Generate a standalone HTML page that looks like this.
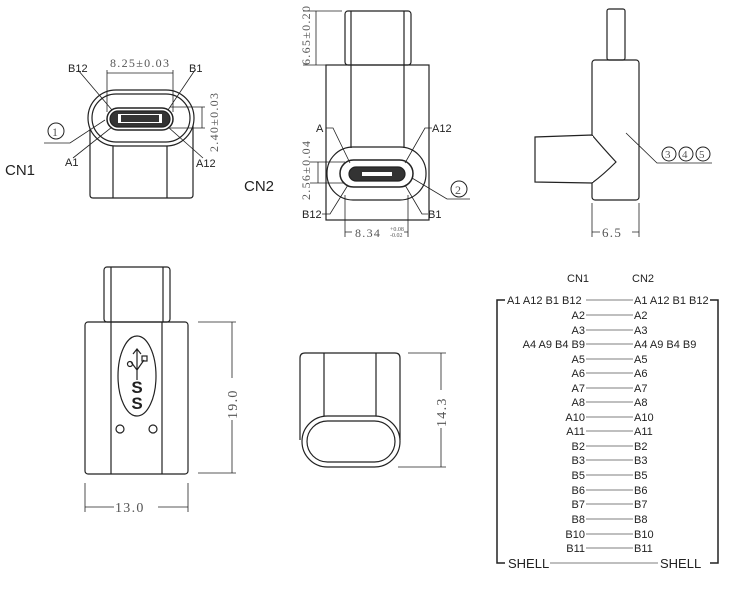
<!DOCTYPE html>
<html><head><meta charset="utf-8"><style>
body{margin:0;background:#fff}
svg{display:block}
.s{font-family:"Liberation Sans",sans-serif;fill:#222}
.d{font-family:"Liberation Serif",serif;fill:#555;letter-spacing:1.3px}
</style></head><body>
<svg width="750" height="592" viewBox="0 0 750 592" xmlns="http://www.w3.org/2000/svg" fill="none" stroke="#222" stroke-width="1.2">
<!-- CN1 -->
<path d="M90 120 V195 q0 3 3 3 H190 q3 0 3 -3 V120"/>
<line x1="113" y1="142" x2="113" y2="198"/><line x1="167" y1="142" x2="167" y2="198"/>
<rect x="88" y="90" width="106" height="56" rx="28" fill="#fff"/>
<rect x="92" y="94" width="98" height="48" rx="24"/>
<rect x="107" y="108" width="66" height="22" rx="11" stroke-width="1.5"/>
<rect x="110" y="111" width="60" height="16" rx="8" fill="#333"/>
<rect x="118" y="114" width="44" height="9" fill="#fff" stroke="none"/>
<rect x="121" y="115" width="38" height="7" fill="#333" stroke="none"/>
<line x1="107" y1="73" x2="173" y2="73" stroke-width="0.8"/>
<line x1="107" y1="70" x2="107" y2="112" stroke-width="0.8"/><line x1="173" y1="70" x2="173" y2="112" stroke-width="0.8"/>
<line x1="170" y1="107" x2="205" y2="107" stroke-width="0.8"/><line x1="170" y1="128" x2="205" y2="128" stroke-width="0.8"/>
<line x1="202" y1="107" x2="202" y2="128" stroke-width="0.8"/>
<line x1="78" y1="70" x2="112" y2="110" stroke-width="0.8"/><line x1="195" y1="70" x2="168" y2="110" stroke-width="0.8"/>
<line x1="73" y1="158" x2="112" y2="127" stroke-width="0.8"/><line x1="203" y1="158" x2="168" y2="127" stroke-width="0.8"/>
<polyline points="44,143 70,143 105,120" stroke-width="0.8"/>
<circle cx="56" cy="131" r="8" stroke-width="1"/>
<text x="52" y="136" class="d" font-size="12" stroke="none">1</text>
<text x="68" y="72" class="s" font-size="11" stroke="none">B12</text>
<text x="189" y="72" class="s" font-size="11" stroke="none">B1</text>
<text x="65" y="166" class="s" font-size="11" stroke="none">A1</text>
<text x="196" y="167" class="s" font-size="11" stroke="none">A12</text>
<text x="110" y="67" class="d" font-size="12" stroke="none">8.25±0.03</text>
<text transform="translate(218,152) rotate(-90)" class="d" font-size="12" stroke="none">2.40±0.03</text>
<text x="5" y="175" class="s" font-size="15" stroke="none">CN1</text>
<!-- CN2 -->
<rect x="345" y="11" width="66" height="54" rx="3"/>
<line x1="351" y1="11" x2="351" y2="65"/><line x1="404" y1="11" x2="404" y2="65"/>
<rect x="326" y="65" width="103" height="155"/>
<line x1="351" y1="65" x2="351" y2="148"/><line x1="404" y1="65" x2="404" y2="148"/>
<rect x="327" y="147" width="99" height="53" rx="26"/>
<rect x="340" y="160" width="73" height="27" rx="13.5" stroke-width="1.5"/>
<rect x="349" y="167" width="56" height="14" rx="7" fill="#333"/>
<rect x="362" y="172" width="30" height="4" fill="#fff" stroke="none"/>
<line x1="303" y1="11" x2="342" y2="11" stroke-width="0.8"/><line x1="303" y1="65" x2="326" y2="65" stroke-width="0.8"/>
<line x1="316" y1="11" x2="316" y2="65" stroke-width="0.8"/>
<line x1="310" y1="162" x2="345" y2="162" stroke-width="0.8"/><line x1="310" y1="183" x2="345" y2="183" stroke-width="0.8"/>
<line x1="318" y1="162" x2="318" y2="183" stroke-width="0.8"/>
<line x1="345" y1="195" x2="345" y2="237" stroke-width="0.8"/><line x1="408" y1="195" x2="408" y2="237" stroke-width="0.8"/>
<line x1="345" y1="232" x2="408" y2="232" stroke-width="0.8"/>
<polyline points="326,128 333,128 350,163" stroke-width="0.8"/><polyline points="432,128 425,128 405,163" stroke-width="0.8"/>
<polyline points="322,214 330,214 348,185" stroke-width="0.8"/><polyline points="428,214 422,214 405,185" stroke-width="0.8"/>
<polyline points="412,178 447,199 470,199" stroke-width="0.8"/>
<circle cx="459" cy="189" r="8" stroke-width="1"/>
<text x="455" y="194" class="d" font-size="12" stroke="none">2</text>
<text x="316" y="132" class="s" font-size="11" stroke="none">A</text>
<text x="432" y="132" class="s" font-size="11" stroke="none">A12</text>
<text x="302" y="218" class="s" font-size="11" stroke="none">B12</text>
<text x="428" y="218" class="s" font-size="11" stroke="none">B1</text>
<rect x="352" y="226" width="52" height="12" fill="#fff" stroke="none"/>
<text x="355" y="237" class="d" font-size="12" stroke="none">8.34</text>
<text x="390" y="231" class="d" font-size="6" stroke="none" style="letter-spacing:0">+0.08</text>
<text x="390" y="237" class="d" font-size="6" stroke="none" style="letter-spacing:0">-0.02</text>
<text transform="translate(310,65) rotate(-90)" class="d" font-size="12" stroke="none">6.65±0.20</text>
<text transform="translate(310,200) rotate(-90)" class="d" font-size="12" stroke="none">2.56±0.04</text>
<text x="244" y="191" class="s" font-size="15" stroke="none">CN2</text>
<!-- side view -->
<rect x="607" y="9" width="18" height="51" rx="2"/>
<rect x="592" y="60" width="47" height="140" rx="3"/>
<path d="M592 135 L535 137 L535 182 L592 183 Q603 175 616 162 Q603 148 592 135 Z" fill="#fff"/>
<line x1="592" y1="136" x2="592" y2="182" stroke="#fff" stroke-width="2"/>
<line x1="592" y1="203" x2="592" y2="237" stroke-width="0.8"/><line x1="639" y1="203" x2="639" y2="237" stroke-width="0.8"/>
<line x1="592" y1="232" x2="639" y2="232" stroke-width="0.8"/>
<rect x="600" y="225" width="32" height="13" fill="#fff" stroke="none"/>
<text x="602" y="237" class="d" font-size="13" stroke="none">6.5</text>
<polyline points="626,133 657,163 712,163" stroke-width="0.8"/>
<circle cx="669" cy="154" r="7" stroke-width="1"/><circle cx="686" cy="154" r="7" stroke-width="1"/><circle cx="703" cy="154" r="7" stroke-width="1"/>
<text x="665" y="158" class="d" font-size="11" stroke="none">3</text><text x="682" y="158" class="d" font-size="11" stroke="none">4</text><text x="699" y="158" class="d" font-size="11" stroke="none">5</text>
<!-- bottom-left -->
<rect x="104" y="267" width="66" height="55" rx="3"/>
<line x1="111" y1="267" x2="111" y2="322"/><line x1="163" y1="267" x2="163" y2="322"/>
<rect x="85" y="322" width="103" height="152" rx="3"/>
<line x1="111" y1="322" x2="111" y2="474"/><line x1="162" y1="322" x2="162" y2="474"/>
<ellipse cx="137" cy="376" rx="19" ry="40"/>
<circle cx="120" cy="429" r="4"/><circle cx="153" cy="429" r="4"/>
<path d="M137 350 V380 M133 354 l4 -5 l4 5 M137 370 l-6 -8 M137 370 l7 -10" stroke-width="1.2"/>
<circle cx="130" cy="364" r="2.5"/><rect x="142" y="356" width="5" height="5"/>
<text x="137" y="393" class="s" font-size="17" font-weight="bold" text-anchor="middle" stroke="none">S</text>
<text x="137" y="409" class="s" font-size="17" font-weight="bold" text-anchor="middle" stroke="none">S</text>
<line x1="198" y1="322" x2="236" y2="322" stroke-width="0.8"/><line x1="198" y1="473" x2="236" y2="473" stroke-width="0.8"/>
<line x1="232" y1="322" x2="232" y2="473" stroke-width="0.8"/>
<rect x="224" y="378" width="16" height="42" fill="#fff" stroke="none"/>
<text transform="translate(237,419) rotate(-90)" class="d" font-size="14" stroke="none">19.0</text>
<line x1="85" y1="483" x2="85" y2="512" stroke-width="0.8"/><line x1="188" y1="483" x2="188" y2="512" stroke-width="0.8"/>
<line x1="85" y1="507" x2="188" y2="507" stroke-width="0.8"/>
<rect x="114" y="499" width="44" height="14" fill="#fff" stroke="none"/>
<text x="115" y="512" class="d" font-size="14" stroke="none">13.0</text>
<!-- bottom-middle -->
<path d="M300 440 V358 q0 -5 5 -5 H395 q5 0 5 5 V440"/>
<line x1="324" y1="353" x2="324" y2="416"/><line x1="376" y1="353" x2="376" y2="416"/>
<rect x="302" y="416" width="98" height="51" rx="25.5" fill="#fff"/>
<rect x="307" y="421" width="88" height="41" rx="20.5"/>
<line x1="408" y1="353" x2="446" y2="353" stroke-width="0.8"/><line x1="398" y1="467" x2="446" y2="467" stroke-width="0.8"/>
<line x1="441" y1="353" x2="441" y2="467" stroke-width="0.8"/>
<rect x="433" y="390" width="16" height="38" fill="#fff" stroke="none"/>
<text transform="translate(446,427) rotate(-90)" class="d" font-size="14" stroke="none">14.3</text>
<!-- table -->
<g class="s" font-size="11" stroke="none" style="fill:#222">
<text x="567" y="282">CN1</text><text x="632" y="282">CN2</text>
<text x="507" y="304">A1 A12 B1 B12</text><text x="634" y="304">A1 A12 B1 B12</text>
<g text-anchor="end">
<text x="585" y="319">A2</text><text x="585" y="334">A3</text><text x="585" y="348">A4 A9 B4 B9</text>
<text x="585" y="363">A5</text><text x="585" y="377">A6</text><text x="585" y="392">A7</text><text x="585" y="406">A8</text>
<text x="585" y="421">A10</text><text x="585" y="435">A11</text><text x="585" y="450">B2</text><text x="585" y="464">B3</text>
<text x="585" y="479">B5</text><text x="585" y="494">B6</text><text x="585" y="508">B7</text><text x="585" y="523">B8</text>
<text x="585" y="538">B10</text><text x="585" y="552">B11</text>
</g>
<text x="634" y="319">A2</text><text x="634" y="334">A3</text><text x="634" y="348">A4 A9 B4 B9</text>
<text x="634" y="363">A5</text><text x="634" y="377">A6</text><text x="634" y="392">A7</text><text x="634" y="406">A8</text>
<text x="634" y="421">A10</text><text x="634" y="435">A11</text><text x="634" y="450">B2</text><text x="634" y="464">B3</text>
<text x="634" y="479">B5</text><text x="634" y="494">B6</text><text x="634" y="508">B7</text><text x="634" y="523">B8</text>
<text x="634" y="538">B10</text><text x="634" y="552">B11</text>
<text x="508" y="568" font-size="13">SHELL</text><text x="660" y="568" font-size="13">SHELL</text>
</g>
<g stroke="#555" stroke-width="0.8">
<line x1="586" y1="300" x2="633" y2="300"/><line x1="586" y1="315" x2="633" y2="315"/><line x1="586" y1="330" x2="633" y2="330"/><line x1="586" y1="344" x2="633" y2="344"/>
<line x1="586" y1="359" x2="633" y2="359"/><line x1="586" y1="373" x2="633" y2="373"/><line x1="586" y1="388" x2="633" y2="388"/><line x1="586" y1="402" x2="633" y2="402"/>
<line x1="586" y1="417" x2="633" y2="417"/><line x1="586" y1="431" x2="633" y2="431"/><line x1="586" y1="446" x2="633" y2="446"/><line x1="586" y1="460" x2="633" y2="460"/>
<line x1="586" y1="475" x2="633" y2="475"/><line x1="586" y1="490" x2="633" y2="490"/><line x1="586" y1="504" x2="633" y2="504"/><line x1="586" y1="519" x2="633" y2="519"/>
<line x1="586" y1="534" x2="633" y2="534"/><line x1="586" y1="548" x2="633" y2="548"/>
<line x1="550" y1="563" x2="658" y2="563"/>
</g>
<polyline points="505,300 497,300 497,563 505,563" stroke-width="1.5"/>
<polyline points="710,300 718,300 718,563 710,563" stroke-width="1.5"/>
</svg>
</body></html>
